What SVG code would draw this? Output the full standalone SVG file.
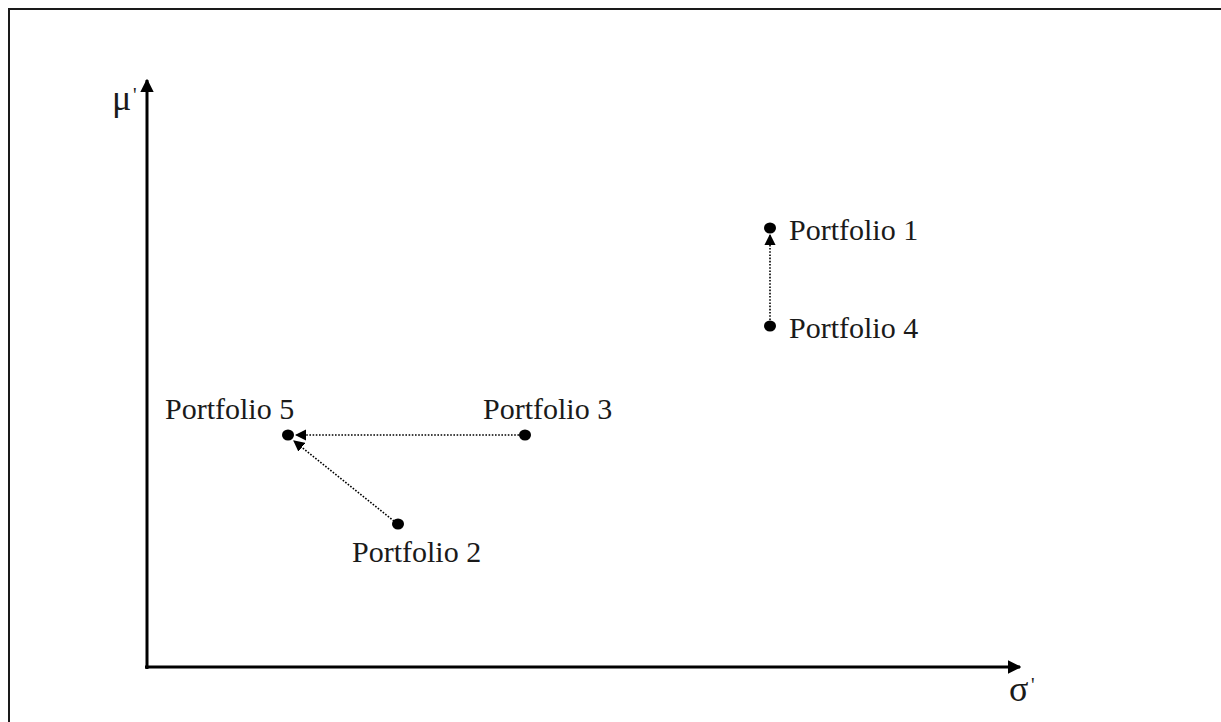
<svg xmlns="http://www.w3.org/2000/svg" width="1221" height="722" viewBox="0 0 1221 722">
  <style>
    .frame { stroke: #1a1a1a; stroke-width: 2; fill: none; }
    .axis { stroke: #000; stroke-width: 3; fill: none; }
    .move { stroke: #000; stroke-width: 1.6; stroke-dasharray: 1.6 1.6; fill: none; }
    .dot { fill: #000; }
    .label { font-family: "Liberation Serif", "Times New Roman", serif; font-size: 30px; fill: #1a1a1a; }
    .sym { font-family: "Liberation Serif", "Times New Roman", serif; font-size: 36px; fill: #1a1a1a; }
    .prime { font-family: "Liberation Serif", "Times New Roman", serif; font-size: 20px; fill: #1a1a1a; }
  </style>
  <defs>
    <marker id="axisHead" viewBox="0 0 10 10" refX="9" refY="5" markerWidth="4.5" markerHeight="4.5" orient="auto" markerUnits="strokeWidth">
      <path d="M0,0 L10,5 L0,10 Z" fill="#000"/>
    </marker>
    <marker id="moveHead" viewBox="0 0 10 10" refX="9" refY="5" markerWidth="7" markerHeight="7" orient="auto" markerUnits="strokeWidth">
      <path d="M0,0 L10,5 L0,10 Z" fill="#000"/>
    </marker>
  </defs>

  <rect width="1221" height="722" fill="#fff"/>

  <!-- outer frame (top and left edges) -->
  <path class="frame" d="M9,722 V9 H1221"/>

  <!-- axes -->
  <g id="axes">
    <line class="axis" x1="147" y1="669" x2="147" y2="80" marker-end="url(#axisHead)"/>
    <line class="axis" x1="145" y1="667" x2="1020" y2="667" marker-end="url(#axisHead)"/>
    <text class="sym" x="112" y="110">μ</text>
    <text class="prime" x="133" y="102">'</text>
    <text class="sym" x="1009" y="701">σ</text>
    <text class="prime" x="1031" y="692">'</text>
  </g>

  <!-- shifts between portfolios -->
  <g id="connectors">
    <line class="move" x1="770" y1="320" x2="770" y2="235" marker-end="url(#moveHead)"/>
    <line class="move" x1="519" y1="435" x2="296" y2="435" marker-end="url(#moveHead)"/>
    <line class="move" x1="394" y1="521" x2="294" y2="441" marker-end="url(#moveHead)"/>
  </g>

  <g id="portfolio1">
    <ellipse class="dot" cx="770" cy="228" rx="6" ry="5.5"/>
    <text class="label" x="789" y="240">Portfolio 1</text>
  </g>
  <g id="portfolio4">
    <ellipse class="dot" cx="770" cy="326" rx="6" ry="5.5"/>
    <text class="label" x="789" y="338">Portfolio 4</text>
  </g>
  <g id="portfolio5">
    <ellipse class="dot" cx="288" cy="435" rx="6" ry="5.5"/>
    <text class="label" x="165" y="419">Portfolio 5</text>
  </g>
  <g id="portfolio3">
    <ellipse class="dot" cx="525" cy="435" rx="6" ry="5.5"/>
    <text class="label" x="483" y="419">Portfolio 3</text>
  </g>
  <g id="portfolio2">
    <ellipse class="dot" cx="398" cy="524" rx="6" ry="5.5"/>
    <text class="label" x="352" y="562">Portfolio 2</text>
  </g>
</svg>
